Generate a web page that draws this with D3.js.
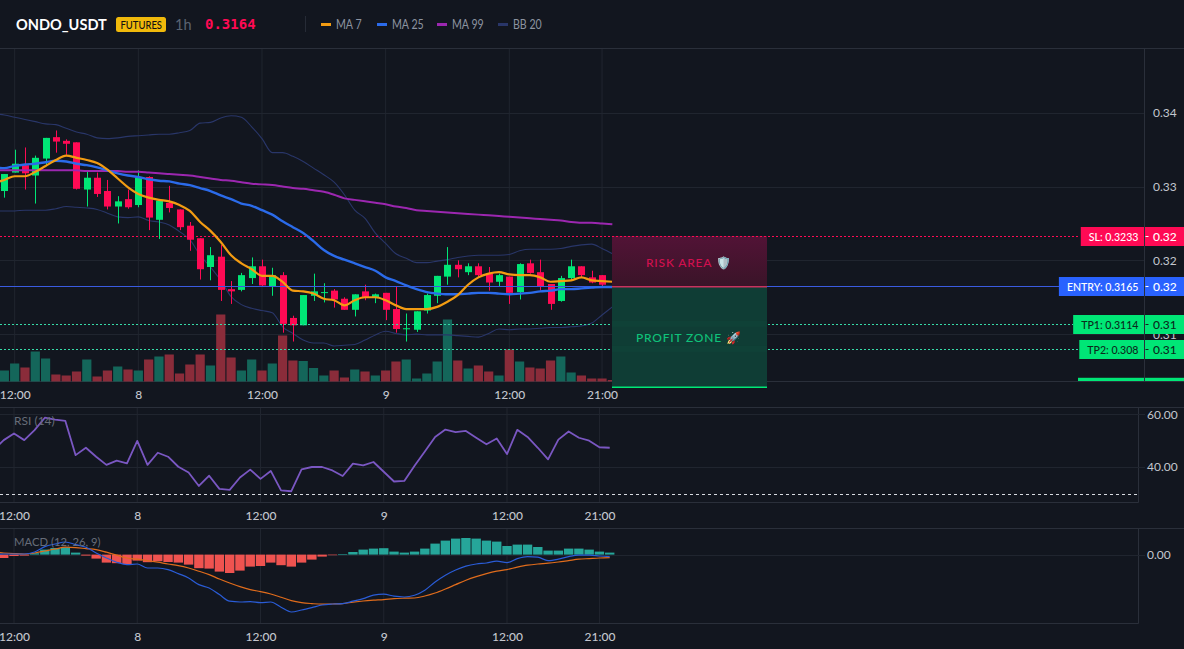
<!DOCTYPE html>
<html>
<head>
<meta charset="utf-8">
<title>ONDO_USDT 1h</title>
<script src="https://cdnjs.cloudflare.com/ajax/libs/d3/7.8.5/d3.min.js"></script>
<style>
  html, body { margin: 0; padding: 0; background: #12161f; overflow: hidden; }
  svg { display: block; }
  text { font-family: Lato, "Noto Sans", sans-serif; }
  .domain { display: none; }
</style>
</head>
<body>
<svg id="chart" width="1184" height="649"></svg>
<script>
// Hourly candles, index 0 is one hour before the first 12:00 label
const opens  = [.3294,.3319,.3329,.3315,.3338,.3367,.3362,.3360,.3296,.3312,.3294,.3273,.3283,.3275,.3313,.3255,.3278,.3269,.3247,.3230,.3191,.3205,.3161,.3160,.3176,.3192,.3165,.3180,.3122,.3112,.3152,.3156,.3159,.3148,.3133,.3158,.3150,.3156,.3134,.3107,.3106,.3132,.3152,.3178,.3194,.3184,.3192,.3182,.3171,.3178,.3157,.3196,.3184,.3168,.3145,.3176,.3192,.3177,.3180];
const highs  = [.3317,.3350,.3353,.3342,.3366,.3376,.3364,.3360,.3320,.3319,.3309,.3287,.3296,.3322,.3314,.3281,.3301,.3269,.3252,.3230,.3218,.3221,.3172,.3183,.3204,.3201,.3190,.3184,.3125,.3153,.3182,.3169,.3161,.3150,.3154,.3167,.3155,.3156,.3164,.3128,.3131,.3155,.3179,.3218,.3200,.3196,.3196,.3191,.3182,.3178,.3196,.3201,.3201,.3168,.3179,.3201,.3192,.3186,.3180];
const lows   = [.3285,.3319,.3296,.3277,.3329,.3346,.3343,.3296,.3273,.3286,.3269,.3250,.3270,.3272,.3241,.3229,.3265,.3241,.3213,.3174,.3173,.3145,.3141,.3158,.3168,.3165,.3152,.3102,.3090,.3112,.3145,.3143,.3136,.3133,.3124,.3146,.3142,.3119,.3102,.3090,.3103,.3128,.3142,.3167,.3177,.3180,.3176,.3159,.3164,.3141,.3147,.3182,.3159,.3133,.3144,.3174,.3177,.3169,.3165];
const closes = [.3317,.3331,.3318,.3339,.3366,.3361,.3358,.3297,.3312,.3290,.3273,.3280,.3272,.3312,.3258,.3281,.3271,.3245,.3228,.3188,.3207,.3160,.3158,.3180,.3192,.3166,.3180,.3114,.3112,.3153,.3158,.3157,.3147,.3133,.3154,.3150,.3154,.3133,.3107,.3108,.3131,.3153,.3179,.3194,.3188,.3192,.3180,.3170,.3180,.3156,.3195,.3183,.3164,.3141,.3176,.3192,.3180,.3170,.3167];
// Traded volume in thousands; the last bar belongs to the forming hour
const volumes = [110,180,140,300,230,70,60,100,220,50,110,150,120,110,220,250,270,80,170,270,160,670,240,110,220,110,180,460,210,205,135,60,110,40,120,100,60,110,200,220,30,80,200,620,210,130,160,100,60,320,200,140,130,210,250,90,60,30,30,15];

// Overlays start one hour earlier (index -1) so they run off the left edge
const ma7   = [.3305,.3309,.3314,.3314,.3320,.3328,.3336,.3342,.3339,.3336,.3332,.3323,.3311,.3299,.3290,.3285,.3282,.3280,.3275,.3267,.3252,.3240,.3225,.3207,.3196,.3188,.3179,.3179,.3171,.3159,.3158,.3155,.3148,.3146,.3139,.3146,.3150,.3150,.3146,.3139,.3134,.3134,.3134,.3137,.3144,.3153,.3167,.3177,.3182,.3184,.3181,.3180,.3180,.3177,.3171,.3172,.3173,.3177,.3173,.3172,.3171];
const ma25  = [.3326,.3325,.3328,.3330,.3331,.3333,.3335,.3334,.3331,.3329,.3326,.3322,.3318,.3315,.3313,.3310,.3308,.3307,.3304,.3302,.3298,.3294,.3288,.3283,.3277,.3274,.3268,.3262,.3253,.3245,.3237,.3226,.3214,.3206,.3201,.3196,.3191,.3186,.3177,.3172,.3166,.3161,.3157,.3155,.3154,.3154,.3155,.3156,.3156,.3155,.3154,.3155,.3156,.3158,.3159,.3161,.3161,.3162,.3163,.3164,.3164];
const ma99  = [.3322,.3322,.3322,.3322,.3322,.3322,.3322,.3322,.3322,.3321,.3321,.3321,.3321,.3320,.3320,.3319,.3318,.3317,.3316,.3315,.3313,.3311,.3309,.3308,.3306,.3304,.3303,.3302,.3300,.3298,.3297,.3295,.3293,.3289,.3284,.3282,.3280,.3278,.3276,.3273,.3271,.3268,.3267,.3266,.3265,.3264,.3263,.3262,.3261,.3260,.3259,.3258,.3257,.3256,.3255,.3254,.3252,.3251,.3251,.3250,.3249];
const bbUpper = [.3399,.3397,.3394,.3391,.3388,.3385,.3384,.3379,.3374,.3371,.3366,.3365,.3366,.3368,.3369,.3370,.3371,.3371,.3373,.3376,.3386,.3387,.3393,.3396,.3394,.3381,.3365,.3346,.3346,.3341,.3334,.3325,.3316,.3306,.3289,.3268,.3257,.3237,.3223,.3209,.3203,.3197,.3197,.3199,.3201,.3204,.3206,.3207,.3207,.3207,.3208,.3213,.3215,.3215,.3215,.3216,.3219,.3221,.3222,.3216,.3209];
const bbLower = [.3267,.3267,.3267,.3268,.3268,.3268,.3270,.3273,.3272,.3271,.3269,.3264,.3259,.3258,.3259,.3254,.3252,.3248,.3239,.3228,.3207,.3191,.3173,.3151,.3140,.3135,.3132,.3129,.3110,.3101,.3092,.3088,.3088,.3084,.3085,.3086,.3092,.3099,.3104,.3101,.3099,.3100,.3099,.3099,.3099,.3098,.3097,.3096,.3101,.3107,.3106,.3107,.3107,.3108,.3109,.3109,.3110,.3111,.3115,.3126,.3137];

const rsi = [46.4,50.2,52.7,50.2,54.0,58.7,58.0,57.5,44.5,47.3,43.9,40.8,42.4,41.4,49.9,40.8,45.4,43.9,40.1,37.9,32.8,36.7,31.7,31.3,36.0,39.0,35.5,38.5,31.1,30.8,39.1,40.0,40.0,38.7,36.6,41.3,40.6,41.9,38.2,34.5,34.7,40.5,45.9,51.4,54.2,53.2,53.7,51.1,48.6,50.8,44.9,54.1,51.4,47.3,42.9,50.4,53.5,51.1,50.0,47.5,47.3];

// MACD values are in thousandths of a dollar
const macdLine = [0,.03,.03,.03,.13,.40,.53,.63,.50,.37,.08,-.17,-.38,-.50,-.47,-.67,-.67,-.75,-.95,-1.17,-1.50,-1.67,-2.00,-2.33,-2.37,-2.35,-2.40,-2.37,-2.63,-2.87,-2.77,-2.65,-2.52,-2.47,-2.45,-2.33,-2.20,-2.03,-1.98,-2.08,-2.12,-2.03,-1.78,-1.37,-1.03,-.77,-.58,-.47,-.42,-.33,-.40,-.20,-.10,-.13,-.30,-.23,-.10,-.03,-.03,-.07,-.10];
const macdSignal = [.12,.08,.05,.03,.08,.18,.28,.37,.35,.30,.25,.12,-.03,-.17,-.23,-.30,-.38,-.47,-.55,-.67,-.83,-1.00,-1.22,-1.42,-1.60,-1.75,-1.85,-1.97,-2.13,-2.30,-2.40,-2.45,-2.48,-2.47,-2.45,-2.38,-2.32,-2.28,-2.25,-2.20,-2.18,-2.17,-2.07,-1.92,-1.72,-1.50,-1.28,-1.10,-.95,-.83,-.75,-.63,-.53,-.47,-.43,-.37,-.30,-.23,-.20,-.17,-.15];
const macdHist = [-.17,-.07,-.05,.07,.25,.33,.37,.10,-.05,-.20,-.40,-.43,-.47,-.30,-.38,-.33,-.37,-.40,-.50,-.68,-.70,-.85,-.92,-.80,-.60,-.57,-.40,-.53,-.60,-.40,-.25,-.10,-.03,.03,.13,.25,.30,.32,.15,.10,.15,.30,.55,.70,.80,.83,.80,.70,.65,.43,.50,.50,.38,.20,.20,.30,.30,.25,.15,.10];

// Trade plan levels
const slPrice = 0.3233, entryPrice = 0.3165, tp1Price = 0.3114, tp2Price = 0.308, tp3Price = 0.3028;
const lastPrice = "0.3164";

const timeTicks = [1, 13, 25, 37, 49, 58];
const timeLabels = ["12:00", "8", "12:00", "9", "12:00", "21:00"];
const priceTicks = [0.34, 0.33, 0.32, 0.31];
const rsiTicks = [60, 40];

const legendNames = ["MA 7", "MA 25", "MA 99", "BB 20"];

const C = {
  bg: "#12161f", grid: "#20252f", border: "#2a2f3a", axis: "#c3c6ce", dim: "#666c78",
  up: "#00e676", down: "#ff0a54", volUp: "#14665a", volDown: "#8a2c3a",
  ma7: "#f39c12", ma25: "#2b6bea", ma99: "#9c27b0", bb: "#293669",
  entry: "#2962ff", tp: "#36dba8", rsi: "#7a57c2", macd: "#2a5cd6", signal: "#e06c1c",
  histUp: "#26a69a", histDown: "#ef5350"
};

const svg = d3.select("#chart");
const root = svg.append("g");
root.append("rect").attr("width", 1184).attr("height", 649).attr("fill", C.bg);

// Scales: the lower panes sit a touch tighter than the price pane
const xMain = d3.scaleLinear().domain([1, 49]).range([14.67, 509.3]);
const xLow = d3.scaleLinear().domain([1, 49]).range([14, 507]);
const yPrice = d3.scaleLinear().domain([0.3165, 0.34]).range([286.2, 112.8]);
const yVol = d3.scaleLinear().domain([0, 1000]).range([381.5, 281.5]);
const yRsi = d3.scaleLinear().domain([40, 60]).range([467, 414.3]);
const yMacd = d3.scaleLinear().domain([0, 1]).range([554.6, 534.6]);

svg.append("defs").append("clipPath").attr("id", "pricePane")
  .append("rect").attr("x", 0).attr("y", 48).attr("width", 1184).attr("height", 333);

// Narrows a text selection to the tighter set of the terminal's UI face
function squeeze(sel, k) {
  sel.each(function () {
    this.setAttribute("textLength", this.getComputedTextLength() * k);
    this.setAttribute("lengthAdjust", "spacingAndGlyphs");
  });
  return sel;
}
function crisp(y) { return Math.round(y) + .5; }
function hline(y, x2, color, dash, width) {
  return root.append("line").attr("x1", 0).attr("x2", x2).attr("y1", y).attr("y2", y)
    .attr("stroke", color).attr("stroke-width", width || 1).attr("stroke-dasharray", dash || null);
}
function vgrid(scale, y1, y2) {
  root.append("g").selectAll("line").data(timeTicks).join("line")
    .attr("x1", d => scale(d)).attr("x2", d => scale(d)).attr("y1", y1).attr("y2", y2)
    .attr("stroke", C.grid);
}

/* ---------- header ---------- */
const head = root.append("g");
squeeze(head.append("text").attr("x", 16).attr("y", 29.5).attr("fill", "#fff").attr("font-size", 16).attr("font-weight", 700).text("ONDO_USDT"), .91);
head.append("rect").attr("x", 116).attr("y", 17).attr("width", 50).attr("height", 15).attr("rx", 2.5).attr("fill", "#f0b90b");
squeeze(head.append("text").attr("x", 120.5).attr("y", 28.5).attr("fill", "#111").attr("font-size", 11).attr("font-weight", 500).text("FUTURES"), .86);
head.append("text").attr("x", 175).attr("y", 29.5).attr("fill", "#5b6472").attr("font-size", 14.5).text("1h");
head.append("text").attr("x", 205).attr("y", 29).attr("fill", C.down).attr("font-size", 14).attr("font-weight", 700)
  .style("font-family", "'DejaVu Sans Mono', monospace").text(lastPrice);
head.append("line").attr("x1", 305.5).attr("x2", 305.5).attr("y1", 16).attr("y2", 32).attr("stroke", "#262b36");

const legendColors = [C.ma7, C.ma25, C.ma99, C.bb];
const legendX = [321, 377, 437, 498];
const legend = head.selectAll("g.item").data(legendNames).join("g").attr("class", "item")
  .attr("transform", (d, i) => `translate(${legendX[i]},0)`);
legend.append("rect").attr("y", 23).attr("width", 10).attr("height", 3).attr("fill", (d, i) => legendColors[i]);
squeeze(legend.append("text").attr("x", 15).attr("y", 28.5).attr("fill", "#8c93a0").attr("font-size", 12.5).text(d => d), .85);

root.append("line").attr("x1", 0).attr("x2", 1184).attr("y1", 48.5).attr("y2", 48.5).attr("stroke", C.border);

/* ---------- price pane ---------- */
vgrid(xMain, 49, 381);
const gridPrice = root.append("g");
gridPrice.selectAll("line").data(priceTicks).join("line")
  .attr("x1", 0).attr("x2", 1144).attr("y1", d => crisp(yPrice(d))).attr("y2", d => crisp(yPrice(d))).attr("stroke", C.grid);
root.append("line").attr("x1", 1144.5).attr("x2", 1144.5).attr("y1", 49).attr("y2", 381.5).attr("stroke", C.border);
hline(381.5, 1184, C.border);

// Volume columns sit on the pane floor
root.append("g").selectAll("rect").data(volumes).join("rect")
  .attr("x", (d, i) => xMain(i) - 4.6).attr("width", 9.2)
  .attr("y", d => yVol(d)).attr("height", d => yVol(0) - yVol(d))
  .attr("fill", (d, i) => closes[i] >= opens[i] ? C.volUp : C.volDown);

// Bollinger bands run beneath the candles
const overlayLine = d3.line().x((d, i) => xMain(i - 1)).y(d => yPrice(d)).curve(d3.curveMonotoneX);
[bbUpper, bbLower].forEach(s => root.append("path").attr("d", overlayLine(s)).attr("fill", "none").attr("stroke", C.bb).attr("stroke-width", 1.1));

// Candles
const candles = root.append("g").selectAll("g").data(opens.map((o, i) => ({ i, o, h: highs[i], l: lows[i], c: closes[i] }))).join("g");
candles.append("line")
  .attr("x1", d => Math.round(xMain(d.i)) + .5).attr("x2", d => Math.round(xMain(d.i)) + .5)
  .attr("y1", d => yPrice(d.h)).attr("y2", d => yPrice(d.l))
  .attr("stroke", d => d.c >= d.o ? C.up : C.down).attr("stroke-width", 1);
candles.append("rect")
  .attr("x", d => Math.round(xMain(d.i)) - 3).attr("width", 7)
  .attr("y", d => yPrice(Math.max(d.o, d.c)))
  .attr("height", d => Math.max(1, Math.abs(yPrice(d.o) - yPrice(d.c))))
  .attr("fill", d => d.c >= d.o ? C.up : C.down);

// Trade level rules
hline(crisp(yPrice(slPrice)), 1080, C.down, "2 2");
hline(crisp(yPrice(tp1Price)), 1073, C.tp, "2 2");
hline(crisp(yPrice(tp2Price)), 1079, C.tp, "2 2");
hline(crisp(yPrice(entryPrice)), 1061, "#3a5be0");

// Moving averages
[[ma99, C.ma99, 2], [ma25, C.ma25, 2.4], [ma7, C.ma7, 2.2]].forEach(([s, col, w]) =>
  root.append("path").attr("d", overlayLine(s)).attr("fill", "none").attr("stroke", col).attr("stroke-width", w));

// Risk and reward zones
const boxX = 612, boxW = 155;
const riskGrad = svg.select("defs").append("linearGradient").attr("id", "riskFill").attr("x1", 0).attr("x2", 0).attr("y1", 0).attr("y2", 1);
riskGrad.append("stop").attr("offset", 0).attr("stop-color", "#521336");
riskGrad.append("stop").attr("offset", 1).attr("stop-color", "#3a1428");
root.append("rect").attr("x", boxX).attr("width", boxW).attr("y", yPrice(slPrice)).attr("height", yPrice(entryPrice) - yPrice(slPrice)).attr("fill", "url(#riskFill)");
root.append("rect").attr("x", boxX).attr("width", boxW).attr("y", yPrice(entryPrice)).attr("height", yPrice(tp3Price) - yPrice(entryPrice)).attr("fill", "#0f3d35");
[tp1Price, tp2Price].forEach(p => root.append("rect").attr("x", boxX).attr("width", boxW).attr("y", yPrice(p) - 3).attr("height", 6).attr("fill", "#124a3d").attr("opacity", .35));
root.append("line").attr("x1", boxX).attr("x2", boxX + boxW).attr("y1", yPrice(entryPrice) + .5).attr("y2", yPrice(entryPrice) + .5).attr("stroke", "#c8325e").attr("stroke-width", 1.5);
root.append("line").attr("x1", boxX).attr("x2", boxX + boxW).attr("y1", crisp(yPrice(slPrice))).attr("y2", crisp(yPrice(slPrice))).attr("stroke", C.down).attr("stroke-dasharray", "2 2");
root.append("line").attr("x1", boxX).attr("x2", boxX + boxW).attr("y1", yPrice(tp3Price)).attr("y2", yPrice(tp3Price)).attr("stroke", C.up).attr("stroke-width", 1.5);
root.append("text").attr("x", 646).attr("y", 267).attr("fill", "#d1104f").attr("font-size", 12).attr("letter-spacing", .8).attr("font-weight", 500).text("RISK AREA 🛡️");
root.append("text").attr("x", 636).attr("y", 342).attr("fill", "#0fc27a").attr("font-size", 12).attr("letter-spacing", .8).attr("font-weight", 500).text("PROFIT ZONE 🚀");

// Price axis
const priceAxis = d3.axisRight(yPrice).tickValues(priceTicks).tickFormat(d3.format(".2f")).tickSize(0).tickPadding(0);
const gAxis = root.append("g").attr("transform", "translate(1153,0)").call(priceAxis);
gAxis.selectAll("text").attr("fill", C.axis).attr("font-size", 12).attr("x", 0);

// Level tags: caption on the left of the axis, rounded price on the right
const levelTags = [
  { text: "SL: " + slPrice, p: slPrice, bg: C.down, fg: "#fff" },
  { text: "ENTRY: " + entryPrice, p: entryPrice, bg: C.entry, fg: "#fff" },
  { text: "TP1: " + tp1Price, p: tp1Price, bg: C.up, fg: "#0b2a1c" },
  { text: "TP2: " + tp2Price, p: tp2Price, bg: C.up, fg: "#0b2a1c" }
];
const tagHeight = 19;
const tags = root.append("g").selectAll("g").data(levelTags).join("g");
tags.append("rect").attr("class", "cap").attr("y", d => Math.round(yPrice(d.p)) - 9).attr("height", tagHeight).attr("fill", d => d.bg).attr("x", 1060).attr("width", 84);
tags.append("rect").attr("x", 1145).attr("width", 39).attr("y", d => Math.round(yPrice(d.p)) - 9).attr("height", tagHeight).attr("fill", d => d.bg);
tags.append("text").attr("class", "cap").attr("x", 1138.5).attr("y", d => Math.round(yPrice(d.p)) + 4.5).attr("text-anchor", "end").attr("font-size", 11.5).attr("font-weight", 500).attr("fill", d => d.fg).text(d => d.text);
tags.append("text").attr("x", 1153).attr("y", d => Math.round(yPrice(d.p)) + 4.5).attr("font-size", 12).attr("font-weight", 500).attr("fill", d => d.fg).text(d => d3.format(".2f")(d.p));
tags.append("line").attr("x1", 1145.5).attr("x2", 1148.5).attr("y1", d => crisp(yPrice(d.p))).attr("y2", d => crisp(yPrice(d.p))).attr("stroke", d => d.fg);
tags.each(function () {
  const g = d3.select(this);
  const t = g.select("text.cap");
  squeeze(t, .92);
  const w = t.node().getComputedTextLength();
  g.select("rect.cap").attr("x", 1138.5 - w - 8).attr("width", w + 13.5);
});

// Third target sits mostly below the pane floor, so only its top edge shows
const tp3Tag = root.append("g").attr("clip-path", "url(#pricePane)");
tp3Tag.append("rect").attr("x", 1078).attr("width", 66).attr("y", yPrice(tp3Price) - 9.5).attr("height", tagHeight).attr("fill", C.up);
tp3Tag.append("rect").attr("x", 1145).attr("width", 39).attr("y", yPrice(tp3Price) - 9.5).attr("height", tagHeight).attr("fill", C.up);

function timeAxis(scale, y) {
  const axis = d3.axisBottom(scale).tickValues(timeTicks).tickSize(0).tickPadding(0)
    .tickFormat((d, i) => timeLabels[i]);
  const g = root.append("g").attr("transform", `translate(0,${y})`).call(axis);
  g.selectAll("text").attr("fill", C.axis).attr("font-size", 12).attr("dy", 0).attr("y", 0).attr("font-weight", 500);
}
timeAxis(xMain, 399);

/* ---------- RSI pane ---------- */
hline(407.5, 1184, C.border);
hline(502.5, 1138.5, C.border);
root.append("line").attr("x1", 1138.5).attr("x2", 1138.5).attr("y1", 407).attr("y2", 502.5).attr("stroke", C.border);
vgrid(xLow, 408, 502);
rsiTicks.forEach(v => hline(crisp(yRsi(v)), 1145, C.grid));
hline(494.5, 1138, "#d7dae0", "3 3");
const rsiPath = d3.line().x((d, i) => xLow(i - 1)).y(d => yRsi(d));
root.append("path").attr("d", rsiPath(rsi)).attr("fill", "none").attr("stroke", C.rsi).attr("stroke-width", 1.8).attr("stroke-linejoin", "round");
const rsiAxis = d3.axisRight(yRsi).tickValues(rsiTicks).tickFormat(d3.format(".2f")).tickSize(0).tickPadding(0);
const gRsi = root.append("g").attr("transform", "translate(1147,0)").call(rsiAxis);
gRsi.selectAll("text").attr("fill", C.axis).attr("font-size", 12).attr("x", 0);
root.append("text").attr("x", 14).attr("y", 425).attr("fill", C.dim).attr("font-size", 12).text("RSI (14)");
timeAxis(xLow, 520);

/* ---------- MACD pane ---------- */
hline(528.5, 1184, C.border);
hline(623.5, 1138.5, C.border);
root.append("line").attr("x1", 1138.5).attr("x2", 1138.5).attr("y1", 528).attr("y2", 623.5).attr("stroke", C.border);
vgrid(xLow, 529, 623);
hline(crisp(yMacd(0)), 1145, C.grid);
root.append("g").selectAll("rect").data(macdHist).join("rect")
  .attr("x", (d, i) => xLow(i) - 4.7).attr("width", 9.4)
  .attr("y", d => Math.min(yMacd(d), yMacd(0)))
  .attr("height", d => Math.abs(yMacd(d) - yMacd(0)))
  .attr("fill", d => d >= 0 ? C.histUp : C.histDown);
const macdPath = d3.line().x((d, i) => xLow(i - 1)).y(d => yMacd(d)).curve(d3.curveMonotoneX);
root.append("path").attr("d", macdPath(macdSignal)).attr("fill", "none").attr("stroke", C.signal).attr("stroke-width", 1.2);
root.append("path").attr("d", macdPath(macdLine)).attr("fill", "none").attr("stroke", C.macd).attr("stroke-width", 1.2);
const macdAxis = d3.axisRight(yMacd).tickValues([0]).tickFormat(d3.format(".2f")).tickSize(0).tickPadding(0);
const gMacd = root.append("g").attr("transform", "translate(1147,0)").call(macdAxis);
gMacd.selectAll("text").attr("fill", C.axis).attr("font-size", 12).attr("x", 0);
squeeze(root.append("text").attr("x", 14).attr("y", 546).attr("fill", C.dim).attr("font-size", 12).text("MACD (12, 26, 9)"), .94);
timeAxis(xLow, 641);
</script>
</body>
</html>
